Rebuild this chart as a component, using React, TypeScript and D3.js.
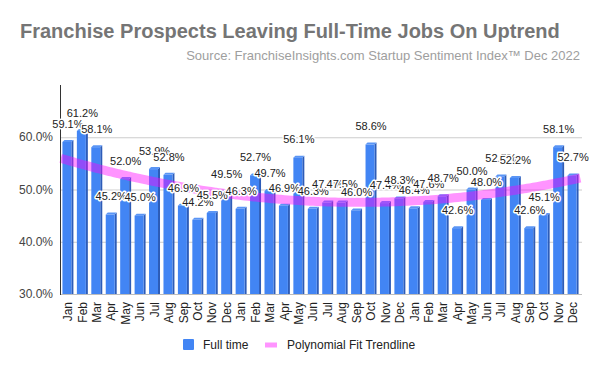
import { useEffect, useRef } from 'react';
import * as d3 from 'd3';

const months = ['Jan', 'Feb', 'Mar', 'Apr', 'May', 'Jun', 'Jul', 'Aug', 'Sep', 'Oct', 'Nov', 'Dec'];
const labels = [...months, ...months, ...months];
const fullTime = [
    59.1, 61.2, 58.1, 45.2, 52.0, 45.0, 53.9, 52.8, 46.9, 44.2, 45.5, 49.5,
    46.3, 52.7, 49.7, 46.9, 56.1, 46.3, 47.5, 47.5, 46.0, 58.6, 47.4, 48.3,
    46.4, 47.6, 48.7, 42.6, 50.0, 48.0, 52.5, 52.2, 42.6, 45.1, 58.1, 52.7,
];
const yTicks = [30, 40, 50, 60];

// least squares, degree 2
function quadFit(ys: number[]) {
    const s = [0, 0, 0, 0, 0];
    const t = [0, 0, 0];
    ys.forEach((y, x) => {
        for (let k = 0; k < 5; k++) s[k] += x ** k;
        for (let k = 0; k < 3; k++) t[k] += y * x ** k;
    });
    const m = [[s[0], s[1], s[2], t[0]], [s[1], s[2], s[3], t[1]], [s[2], s[3], s[4], t[2]]];
    for (let i = 0; i < 3; i++) {
        for (let j = i + 1; j < 3; j++) {
            const f = m[j][i] / m[i][i];
            for (let k = i; k < 4; k++) m[j][k] -= f * m[i][k];
        }
    }
    const c = [0, 0, 0];
    for (let i = 2; i >= 0; i--) {
        let v = m[i][3];
        for (let k = i + 1; k < 3; k++) v -= m[i][k] * c[k];
        c[i] = v / m[i][i];
    }
    return (x: number) => c[0] + c[1] * x + c[2] * x * x;
}

export default function App() {
    const svgRef = useRef<SVGSVGElement>(null);

    useEffect(() => {
        if (!svgRef.current) return;
        const W = 600, H = 371;
        const font = 'Arial, "Liberation Sans", sans-serif';
        const blue = '#4285f4';
        const plot = { left: 60, right: 582, top: 85, bottom: 294 };

        const svg = d3.select(svgRef.current);
        svg.selectAll('*').remove();
        svg.attr('width', W).attr('height', H).style('font-family', font);
        svg.append('rect').attr('width', W).attr('height', H).attr('fill', '#fff');

        const x = d3.scaleBand<number>().domain(d3.range(fullTime.length)).range([61, 580]).paddingInner(0.24).paddingOuter(0.1);
        const y = d3.scaleLinear().domain([30, 70]).range([plot.bottom, plot.top]);
        const cx = (i: number) => (x(i) ?? 0) + x.bandwidth() / 2;

        // Title
        svg.append('text').attr('x', 20).attr('y', 38).attr('font-size', 20).attr('font-weight', 'bold')
            .attr('fill', '#757575').text('Franchise Prospects Leaving Full-Time Jobs On Uptrend');
        svg.append('text').attr('x', 580).attr('y', 60).attr('font-size', 13).attr('text-anchor', 'end')
            .attr('fill', '#9e9e9e').text('Source: FranchiseInsights.com Startup Sentiment Index™ Dec 2022');

        // Gridlines + y labels
        svg.append('g').selectAll('line').data(yTicks).join('line')
            .attr('x1', plot.left).attr('x2', plot.right)
            .attr('y1', d => y(d) + 0.5).attr('y2', d => y(d) + 0.5)
            .attr('stroke', d => d === 30 ? '#bdbdbd' : '#cccccc').attr('stroke-width', 1);
        svg.append('g').selectAll('text').data(yTicks).join('text')
            .attr('x', 53).attr('y', d => y(d)).attr('dy', '0.35em').attr('text-anchor', 'end')
            .attr('font-size', 12).attr('fill', '#444').text(d => `${d.toFixed(1)}%`);

        // Bars (flat 3D look)
        const bw = x.bandwidth();
        const side = 2;
        const face = bw - side;
        const bars = svg.append('g').selectAll('g').data(fullTime).join('g');
        bars.append('polygon')
            .attr('points', (d, i) => {
                const x0 = x(i)! + face, t = y(d);
                return `${x0},${t} ${x0 + side},${t - side} ${x0 + side},${plot.bottom} ${x0},${plot.bottom}`;
            })
            .attr('fill', '#2d5cb8');
        bars.append('polygon')
            .attr('points', (d, i) => {
                const x0 = x(i)!, t = y(d);
                return `${x0},${t} ${x0 + side},${t - side} ${x0 + face + side},${t - side} ${x0 + face},${t}`;
            })
            .attr('fill', '#5a95f5');
        bars.append('rect')
            .attr('x', (_, i) => x(i)!).attr('y', d => y(d))
            .attr('width', face).attr('height', d => plot.bottom - y(d))
            .attr('fill', blue);

        // Trendline
        const fit = quadFit(fullTime);
        const step = x.step();
        const tx = d3.scaleLinear().domain([0, fullTime.length - 1]).range([cx(0), cx(fullTime.length - 1)]);
        const pts = d3.range(-0.5, fullTime.length - 0.5 + 0.01, 0.25);
        svg.append('path')
            .datum(pts)
            .attr('d', d3.line<number>().x(t => tx(t)).y(t => y(fit(t))).curve(d3.curveBasis))
            .attr('fill', 'none').attr('stroke', '#ff00ff').attr('stroke-opacity', 0.42)
            .attr('stroke-width', 9);
        void step;

        // Y axis line
        svg.append('line').attr('x1', plot.left + 0.5).attr('x2', plot.left + 0.5)
            .attr('y1', plot.top).attr('y2', plot.bottom + 1).attr('stroke', '#333');

        // Value labels
        svg.append('g').selectAll('text').data(fullTime).join('text')
            .attr('x', (_, i) => cx(i)).attr('y', d => y(d) - 18).attr('dy', '0.35em')
            .attr('text-anchor', 'middle').attr('font-size', 11).attr('fill', '#222')
            .attr('stroke', '#fff').attr('stroke-width', 3).attr('stroke-linejoin', 'round')
            .attr('paint-order', 'stroke')
            .text(d => `${d.toFixed(1)}%`);

        // X labels
        svg.append('g').selectAll('text').data(labels).join('text')
            .attr('transform', (_, i) => `translate(${cx(i)},302) rotate(-90)`)
            .attr('dy', '0.35em').attr('text-anchor', 'end')
            .attr('font-size', 12).attr('fill', '#222').text(d => d);

        // Legend
        const lg = svg.append('g');
        lg.append('rect').attr('x', 183).attr('y', 339).attr('width', 11).attr('height', 11).attr('rx', 1).attr('fill', blue);
        lg.append('text').attr('x', 203).attr('y', 345).attr('dy', '0.35em').attr('font-size', 12).attr('fill', '#222').text('Full time');
        lg.append('line').attr('x1', 265).attr('x2', 277).attr('y1', 345).attr('y2', 345)
            .attr('stroke', '#ff00ff').attr('stroke-opacity', 0.42).attr('stroke-width', 5);
        lg.append('text').attr('x', 287).attr('y', 345).attr('dy', '0.35em').attr('font-size', 12).attr('fill', '#222').text('Polynomial Fit Trendline');
    }, []);

    return (
        <div style={{ margin: -8 }}>
            <svg ref={svgRef} style={{ display: 'block' }} />
        </div>
    );
}
